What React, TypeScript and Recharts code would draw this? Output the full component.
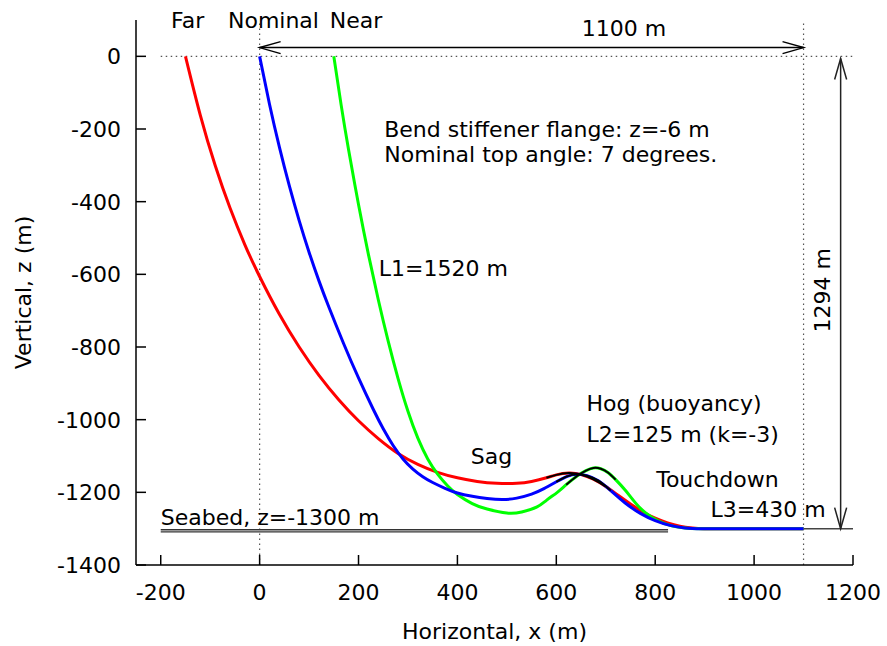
import React from 'react';
import { LineChart, Line, XAxis, YAxis, ReferenceLine, ReferenceDot, Label } from 'recharts';

const FONT = '"DejaVu Sans", sans-serif';
const FS = 22;

const xTicks = [-200, 0, 200, 400, 600, 800, 1000, 1200];
const zTicks = [0, -200, -400, -600, -800, -1000, -1200, -1400];

// Far position (red)
const farX = [-150, -120, -90, -60, -30, 0, 40, 80, 120, 160, 200, 240, 280, 320, 360, 400, 440, 480, 520, 550, 580, 600, 625, 650, 675, 700, 725, 750, 775, 800, 825, 850, 875, 900, 950, 1000, 1050, 1100];
const farZ = [0, -162, -300, -417, -518, -606, -710, -800, -878, -945, -1003, -1052, -1093, -1123, -1145, -1160, -1170, -1175, -1175, -1170, -1160, -1152, -1147, -1151, -1164, -1184, -1208, -1232, -1254, -1271, -1284, -1293, -1298, -1300, -1300, -1300, -1300, -1300];

// Nominal position (blue)
const nomX = [0, 20, 40, 60, 80, 100, 120, 140, 170, 200, 230, 250, 270, 290, 310, 330, 350, 375, 400, 430, 460, 490, 520, 550, 575, 600, 622, 641, 662, 685, 710, 740, 770, 800, 830, 860, 895, 950, 1000, 1050, 1100];
const nomZ = [0, -132, -250, -356, -452, -539, -618, -690, -791, -885, -972, -1025, -1071, -1108, -1136, -1157, -1173, -1189, -1202, -1211, -1217, -1220, -1216, -1205, -1190, -1171, -1156, -1150, -1154, -1168, -1195, -1230, -1258, -1278, -1291, -1298, -1300, -1300, -1300, -1300, -1300];

// Near position (green)
const nearX = [150, 165, 180, 200, 220, 240, 260, 280, 300, 320, 340, 360, 380, 400, 430, 460, 500, 530, 561, 580, 602, 620, 642, 660, 675, 690, 705, 720, 740, 760, 780, 805, 835, 865, 895, 950, 1000, 1050, 1100];
const nearZ = [0, -135, -258, -408, -545, -670, -784, -887, -977, -1051, -1108, -1150, -1182, -1206, -1231, -1246, -1257, -1254, -1240, -1222, -1200, -1179, -1155, -1140, -1133, -1135, -1146, -1165, -1195, -1229, -1256, -1278, -1293, -1299, -1300, -1300, -1300, -1300, -1300];

// Hog (buoyancy) section extents, x (m)
const farHog = [580, 700];
const nomHog = [600, 710];
const nearHog = [620, 720];

const toPts = (xs: number[], zs: number[]) => xs.map((x, i) => ({ x, z: zs[i] }));
const slice = (pts: { x: number; z: number }[], r: number[]) => pts.filter((p) => p.x >= r[0] && p.x <= r[1]);

const farData = toPts(farX, farZ);
const nomData = toPts(nomX, nomZ);
const nearData = toPts(nearX, nearZ);

const XTick = (props: any) => {
  const { x, y, payload } = props;
  return (
    <g>
      <line x1={x} y1={y} x2={x} y2={y - 10} stroke="#000" strokeWidth={1.5} />
      <text x={x} y={y + 35} textAnchor="middle" fontFamily={FONT} fontSize={FS} fill="#000">
        {payload.value}
      </text>
    </g>
  );
};

const YTick = (props: any) => {
  const { x, y, payload } = props;
  return (
    <g>
      <line x1={x} y1={y} x2={x + 10} y2={y} stroke="#000" strokeWidth={1.5} />
      <text x={x - 15} y={y + 8} textAnchor="end" fontFamily={FONT} fontSize={FS} fill="#000">
        {payload.value}
      </text>
    </g>
  );
};

const textShape = (label: string, anchor: string, rotate = false) => (p: any) => (
  <text
    x={p.cx}
    y={p.cy}
    textAnchor={anchor}
    fontFamily={FONT}
    fontSize={FS}
    fill="#000"
    transform={rotate ? `rotate(-90, ${p.cx}, ${p.cy})` : undefined}
  >
    {label}
  </text>
);

const arrowHead = (dir: 'left' | 'right' | 'up' | 'down', color: string) => (p: any) => {
  const { cx, cy } = p;
  let d = '';
  if (dir === 'left') d = `M${cx + 21},${cy - 6} L${cx},${cy} L${cx + 21},${cy + 6}`;
  if (dir === 'right') d = `M${cx - 21},${cy - 6} L${cx},${cy} L${cx - 21},${cy + 6}`;
  if (dir === 'up') d = `M${cx - 6},${cy + 21} L${cx},${cy} L${cx + 6},${cy + 21}`;
  if (dir === 'down') d = `M${cx - 6},${cy - 21} L${cx},${cy} L${cx + 6},${cy - 21}`;
  return <path d={d} stroke={color} strokeWidth={1.5} fill="none" />;
};

const annotations: { x: number; z: number; t: string; a: string; r?: boolean }[] = [
  { x: -179, z: 78, t: 'Far', a: 'start' },
  { x: -64, z: 78, t: 'Nominal', a: 'start' },
  { x: 142, z: 78, t: 'Near', a: 'start' },
  { x: 737, z: 56, t: '1100 m', a: 'middle' },
  { x: 252, z: -221, t: 'Bend stiffener flange: z=-6 m', a: 'start' },
  { x: 252, z: -290, t: 'Nominal top angle: 7 degrees.', a: 'start' },
  { x: 241, z: -605, t: 'L1=1520 m', a: 'start' },
  { x: 661, z: -977, t: 'Hog (buoyancy)', a: 'start' },
  { x: 661, z: -1062, t: 'L2=125 m (k=-3)', a: 'start' },
  { x: 427, z: -1121, t: 'Sag', a: 'start' },
  { x: 802, z: -1184, t: 'Touchdown', a: 'start' },
  { x: 912, z: -1269, t: 'L3=430 m', a: 'start' },
  { x: -200, z: -1289, t: 'Seabed, z=-1300 m', a: 'start' },
  { x: 1153, z: -644, t: '1294 m', a: 'middle', r: true },
];

export default function App() {
  return (
    <div style={{ position: 'absolute', left: 0, top: 0, width: 887, height: 646, background: '#fff' }}>
      <LineChart width={887} height={646} margin={{ top: 20, right: 34, left: 0, bottom: 0 }}>
        <XAxis
          type="number"
          dataKey="x"
          domain={[-250, 1200]}
          ticks={xTicks}
          allowDataOverflow
          height={81}
          tickSize={0}
          tickMargin={0}
          tickLine={false}
          tick={<XTick />}
          axisLine={{ stroke: '#000', strokeWidth: 1.5 }}
          interval={0}
        >
          <Label
            content={(p: any) => {
              const vb = p.viewBox || {};
              return (
                <text x={vb.x + vb.width / 2} y={vb.y + 74} textAnchor="middle" fontFamily={FONT} fontSize={FS} fill="#000">
                  Horizontal, x (m)
                </text>
              );
            }}
          />
        </XAxis>
        <YAxis
          type="number"
          dataKey="z"
          domain={[-1400, 100]}
          ticks={zTicks}
          allowDataOverflow
          width={136}
          tickSize={0}
          tickMargin={0}
          tickLine={false}
          tick={<YTick />}
          axisLine={{ stroke: '#000', strokeWidth: 1.5 }}
          interval={0}
        >
          <Label
            content={(p: any) => {
              const vb = p.viewBox || {};
              const cy = vb.y + vb.height / 2;
              return (
                <text x={31} y={cy} transform={`rotate(-90, 31, ${cy})`} textAnchor="middle" fontFamily={FONT} fontSize={FS} fill="#000">
                  Vertical, z (m)
                </text>
              );
            }}
          />
        </YAxis>

        {/* dotted guide lines */}
        <ReferenceLine x={0} stroke="#555" strokeWidth={1.2} strokeDasharray="1.5 3.5" ifOverflow="visible" />
        <ReferenceLine x={1100} stroke="#555" strokeWidth={1.2} strokeDasharray="1.5 3.5" ifOverflow="visible" />
        <ReferenceLine segment={[{ x: -200, y: 0 }, { x: 1200, y: 0 }]} stroke="#555" strokeWidth={1.2} strokeDasharray="1.5 3.5" ifOverflow="visible" />

        {/* seabed */}
        <ReferenceLine segment={[{ x: -200, y: -1303 }, { x: 826, y: -1303 }]} stroke="#333" strokeWidth={1.3} ifOverflow="visible" />
        <ReferenceLine segment={[{ x: -200, y: -1309 }, { x: 826, y: -1309 }]} stroke="#333" strokeWidth={1.3} ifOverflow="visible" />
        <ReferenceLine segment={[{ x: 1100, y: -1300 }, { x: 1200, y: -1300 }]} stroke="#444" strokeWidth={1.5} ifOverflow="visible" />

        {/* dimension arrows */}
        <ReferenceLine segment={[{ x: 0, y: 24 }, { x: 1100, y: 24 }]} stroke="#000" strokeWidth={1.5} ifOverflow="visible" />
        <ReferenceDot x={0} y={24} r={0} shape={arrowHead('left', '#000')} ifOverflow="visible" />
        <ReferenceDot x={1100} y={24} r={0} shape={arrowHead('right', '#000')} ifOverflow="visible" />
        <ReferenceLine segment={[{ x: 1175, y: -6 }, { x: 1175, y: -1300 }]} stroke="#222" strokeWidth={1.5} ifOverflow="visible" />
        <ReferenceDot x={1175} y={-6} r={0} shape={arrowHead('up', '#222')} ifOverflow="visible" />
        <ReferenceDot x={1175} y={-1300} r={0} shape={arrowHead('down', '#222')} ifOverflow="visible" />

        <Line data={farData} dataKey="z" type="natural" stroke="#ff0000" strokeWidth={3} dot={false} activeDot={false} isAnimationActive={false} />
        <Line data={nearData} dataKey="z" type="natural" stroke="#00ff00" strokeWidth={3} dot={false} activeDot={false} isAnimationActive={false} />
        <Line data={nomData} dataKey="z" type="natural" stroke="#0000ff" strokeWidth={3} dot={false} activeDot={false} isAnimationActive={false} />
        <Line data={slice(farData, farHog)} dataKey="z" type="natural" stroke="#000" strokeWidth={2} dot={false} activeDot={false} isAnimationActive={false} />
        <Line data={slice(nomData, nomHog)} dataKey="z" type="natural" stroke="#000" strokeWidth={2} dot={false} activeDot={false} isAnimationActive={false} />
        <Line data={slice(nearData, nearHog)} dataKey="z" type="natural" stroke="#000" strokeWidth={2} dot={false} activeDot={false} isAnimationActive={false} />

        {annotations.map((a, i) => (
          <ReferenceDot key={i} x={a.x} y={a.z} r={0} shape={textShape(a.t, a.a, a.r)} ifOverflow="visible" />
        ))}
      </LineChart>
    </div>
  );
}
